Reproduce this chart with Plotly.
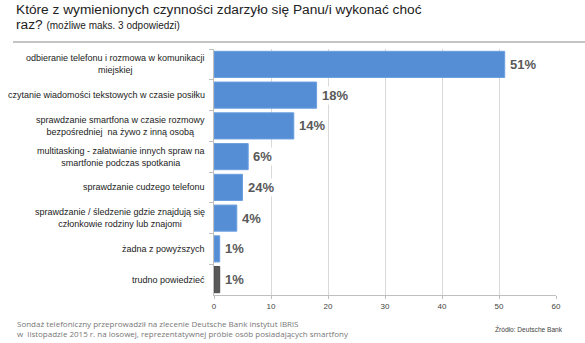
import plotly.graph_objects as go

categories = [
    "odbieranie telefonu i rozmowa w komunikacji<br>miejskiej",
    "czytanie wiadomości tekstowych w czasie posiłku",
    "sprawdzanie smartfona w czasie rozmowy<br>bezpośredniej  na żywo z inną osobą",
    "multitasking - załatwianie innych spraw na<br>smartfonie podczas spotkania",
    "sprawdzanie cudzego telefonu",
    "sprawdzanie / śledzenie gdzie znajdują się<br>członkowie rodziny lub znajomi",
    "żadna z powyższych",
    "trudno powiedzieć",
]
values = [51, 18, 14, 6, 5, 4, 1, 1]
value_labels = ["51%", "18%", "14%", "6%", "24%", "4%", "1%", "1%"]
bar_colors = ["#558ed5"] * 7 + ["#595959"]
line_colors = ["#6b9fe0"] * 7 + ["#4a4a4a"]
x_ticks = [0, 10, 20, 30, 40, 50, 60]

W, H = 585, 343
ML, MR, MT, MB = 214, 29, 49, 48
PW, PH = W - ML - MR, H - MT - MB


def px(x):
    return (x - ML) / PW


def py(y):
    return (H - MB - y) / PH


fig = go.Figure()
fig.add_trace(go.Bar(
    y=categories, x=values, orientation="h",
    marker=dict(color=bar_colors, line=dict(color=line_colors, width=1)),
    width=0.85, hoverinfo="skip",
))

annotations = []
for c, v, t in zip(categories, values, value_labels):
    annotations.append(dict(
        x=v, y=c, xref="x", yref="y", text=t, showarrow=False,
        xanchor="left", xshift=3, bgcolor="white", borderpad=1,
        font=dict(family="Liberation Sans, Arial", size=13, color="#595959", weight="bold"),
    ))
    annotations.append(dict(
        x=px(207), y=c, xref="paper", yref="y", text=c, showarrow=False,
        xanchor="right", align="center",
        font=dict(family="Liberation Sans, Arial", size=9, color="#222222"),
    ))

annotations += [
    dict(x=px(14), y=py(9.5), xref="paper", yref="paper", xanchor="left", yanchor="middle",
         text="Które z wymienionych czynności zdarzyło się Panu/i wykonać choć", showarrow=False,
         font=dict(family="Liberation Sans, Arial", size=13.7, color="#222222")),
    dict(x=px(14), y=py(24.5), xref="paper", yref="paper", xanchor="left", yanchor="middle",
         text="raz? <span style='font-size:10px'>(możliwe maks. 3 odpowiedzi)</span>", showarrow=False,
         font=dict(family="Liberation Sans, Arial", size=13.7, color="#222222")),
    dict(x=px(16), y=py(323.5), xref="paper", yref="paper", xanchor="left", yanchor="middle",
         text="Sondaż telefoniczny przeprowadził na zlecenie Deutsche Bank instytut IBRiS",
         showarrow=False, borderpad=0,
         font=dict(family="Open Sans, Arial", size=8, color="#777777")),
    dict(x=px(16), y=py(333.5), xref="paper", yref="paper", xanchor="left", yanchor="middle",
         text="w  listopadzie 2015 r. na losowej, reprezentatywnej próbie osób posiadających smartfony",
         showarrow=False, borderpad=0,
         font=dict(family="Open Sans, Arial", size=8, color="#777777")),
    dict(x=px(493), y=py(328.5), xref="paper", yref="paper", xanchor="left", yanchor="middle",
         text="Źródło: Deutsche Bank", showarrow=False,
         font=dict(family="Liberation Sans, Arial", size=6.6, color="#444444")),
]

fig.update_layout(
    width=W, height=H,
    margin=dict(l=ML, r=MR, t=MT, b=MB),
    paper_bgcolor="white", plot_bgcolor="white",
    showlegend=False,
    annotations=annotations,
    shapes=[dict(type="line", xref="paper", yref="paper",
                 x0=px(13), x1=px(585), y0=py(42), y1=py(42),
                 line=dict(color="#c4c4c4", width=2))],
    xaxis=dict(range=[0, 60], tickvals=x_ticks, showgrid=True, gridcolor="#d9d9d9", gridwidth=1,
               zeroline=False, showline=True, linecolor="#bfbfbf", ticks="outside", ticklen=3,
               tickcolor="#bfbfbf",
               tickfont=dict(family="Liberation Sans, Arial", size=8, color="#444444")),
    yaxis=dict(autorange="reversed", showticklabels=False, showline=True, linecolor="#bfbfbf",
               ticks="outside", ticklen=4, tickcolor="#bfbfbf", tickson="boundaries",
               showgrid=False, zeroline=False),
    bargap=0.15,
)

fig.write_html("out.html")
